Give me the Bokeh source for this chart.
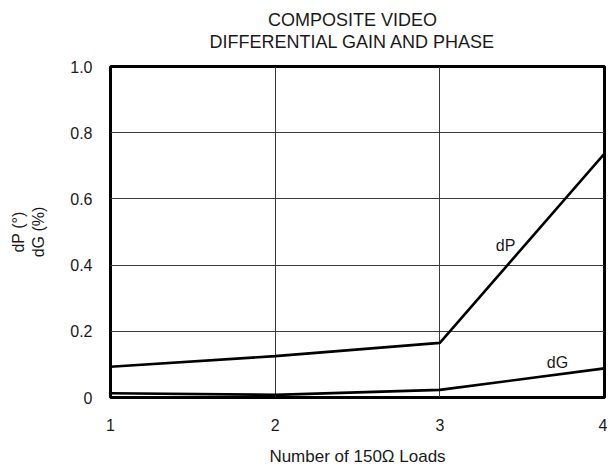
from bokeh.plotting import figure
from bokeh.layouts import column
from bokeh.models import FixedTicker, Label
from bokeh.embed import file_html
from bokeh.resources import INLINE
from bokeh.core.properties import value

loads = [1, 2, 3, 4]
dP = [0.093, 0.125, 0.165, 0.737]
dG = [0.013, 0.008, 0.023, 0.088]
y_ticks = [0, 0.2, 0.4, 0.6, 0.8, 1.0]
y_tick_labels = ["0", "0.2", "0.4", "0.6", "0.8", "1.0"]
title_lines = ["COMPOSITE VIDEO", "DIFFERENTIAL GAIN AND PHASE"]
x_title = "Number of 150\u03a9 Loads"

FONT = "Liberation Sans"
TXT = "#1a1a1a"
W = 607
TH = 56

# --- title strip (a bare figure holding the two centred title lines) ---
tf = figure(width=W, height=TH, x_range=(1, 4), y_range=(0, TH),
            output_backend="svg", toolbar_location=None, title=None,
            min_border=0, x_axis_type=None, y_axis_type=None)
tf.outline_line_color = None
tf.grid.visible = False
tf.background_fill_color = "white"
tf.border_fill_color = "white"
tf.text(x=[2.47, 2.47], y=[TH - 19, TH - 41], text=title_lines,
        text_font=value(FONT), text_font_size="18px", text_color=TXT,
        text_align="center", text_baseline="middle")

# --- main chart ---
p = figure(width=W, height=468 - TH, x_range=(1, 4), y_range=(0, 1),
           output_backend="svg", toolbar_location=None, title=None,
           min_border_left=110, min_border_right=3,
           min_border_top=10, min_border_bottom=67)

p.outline_line_color = "black"
p.outline_line_width = 3
p.background_fill_color = "white"
p.border_fill_color = "white"

p.xaxis.ticker = FixedTicker(ticks=loads)
p.yaxis.ticker = FixedTicker(ticks=y_ticks)
p.yaxis.major_label_overrides = {t: l for t, l in zip(y_ticks, y_tick_labels)}
for ax in (p.xaxis, p.yaxis):
    ax.axis_line_color = None
    ax.major_tick_line_color = None
    ax.minor_tick_line_color = None
    ax.major_label_text_font = FONT
    ax.major_label_text_font_size = "16px"
    ax.major_label_text_color = TXT
    ax.axis_label_text_font = FONT
    ax.axis_label_text_font_style = "normal"
    ax.axis_label_text_color = TXT

p.xaxis.major_label_standoff = 15
p.xaxis.axis_label = x_title
p.xaxis.axis_label_text_font_size = "17px"
p.xaxis.axis_label_standoff = 13
p.yaxis.major_label_standoff = 12
p.yaxis.axis_label = "dP (\u00b0)\ndG (%)"
p.yaxis.axis_label_text_font_size = "16px"
p.yaxis.axis_label_standoff = 20
p.yaxis.major_label_orientation = "horizontal"

p.xgrid.ticker = FixedTicker(ticks=[2, 3])
p.ygrid.ticker = FixedTicker(ticks=[0.2, 0.4, 0.6, 0.8])
for g in (p.xgrid, p.ygrid):
    g.grid_line_color = "#3a3a3a"
    g.grid_line_width = 1

p.line(loads, dP, line_color="black", line_width=2.6)
p.line(loads, dG, line_color="black", line_width=2.6)

def txt(x, y, s, size="16px"):
    p.add_layout(Label(x=x, y=y, text=s, text_font=FONT, text_font_size=size,
                       text_align="center", text_baseline="middle", text_color=TXT))

txt(3.399, 0.458, "dP")
txt(3.714, 0.105, "dG")

layout = column(tf, p, spacing=0)
open("out.html", "w").write(file_html(layout, INLINE))
